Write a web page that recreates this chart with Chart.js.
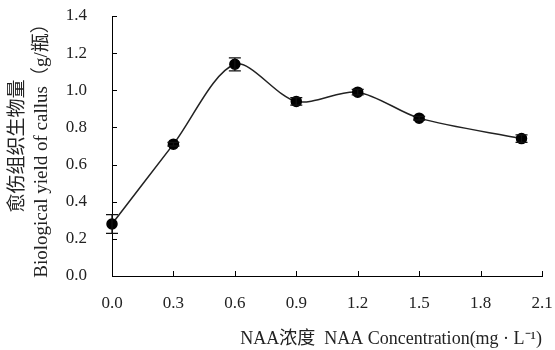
<!DOCTYPE html>
<html>
<head>
<meta charset="utf-8">
<script src="https://cdn.jsdelivr.net/npm/chart.js@4/dist/chart.umd.min.js"></script>
<style>
  html, body { margin: 0; padding: 0; background: #fff; }
  #wrap { width: 555px; height: 350px; position: relative; }
</style>
</head>
<body>
<div id="wrap"><canvas id="c" width="555" height="350"></canvas></div>
<script>
// Data
const concentrations = [0.0, 0.3, 0.6, 0.9, 1.2, 1.5, 2.0];   // NAA mg/L
const yieldValues    = [0.28, 0.71, 1.14, 0.94, 0.99, 0.85, 0.74]; // g/bottle
const yieldErrors    = [0.05, 0.01, 0.035, 0.02, 0.015, 0.01, 0.02];
const yTitleLines = ['愈伤组织生物量', 'Biological yield of callus（g/瓶）'];
const xTitleText = 'NAA浓度  NAA Concentration(mg · L⁻¹)';

const SERIF = '"Liberation Serif", "Times New Roman", "Noto Sans CJK SC", serif';

const points = concentrations.map((x, i) => ({ x: x, y: yieldValues[i] }));

const errorBarPlugin = {
  id: 'errorBars',
  afterDatasetsDraw(chart) {
    const { ctx, scales: { x, y } } = chart;
    ctx.save();
    ctx.strokeStyle = '#111';
    ctx.lineWidth = 1.3;
    concentrations.forEach((cx, i) => {
      const px = x.getPixelForValue(cx);
      const top = y.getPixelForValue(yieldValues[i] + yieldErrors[i]);
      const bot = y.getPixelForValue(yieldValues[i] - yieldErrors[i]);
      const hw = 6;
      ctx.beginPath();
      ctx.moveTo(px, top); ctx.lineTo(px, bot);
      ctx.moveTo(px - hw, top); ctx.lineTo(px + hw, top);
      ctx.moveTo(px - hw, bot); ctx.lineTo(px + hw, bot);
      ctx.stroke();
    });
    ctx.restore();
  }
};

const inwardTicksPlugin = {
  id: 'inwardTicks',
  afterDraw(chart) {
    const { ctx, chartArea, scales: { x, y } } = chart;
    ctx.save();
    ctx.strokeStyle = '#000';
    ctx.lineWidth = 1;
    ctx.beginPath();
    y.ticks.forEach(t => {
      const py = Math.round(y.getPixelForValue(t.value)) + 0.5;
      ctx.moveTo(chartArea.left, py);
      ctx.lineTo(chartArea.left + 5, py);
    });
    x.ticks.forEach(t => {
      const px = Math.round(x.getPixelForValue(t.value)) + 0.5;
      ctx.moveTo(px, chartArea.bottom);
      ctx.lineTo(px, chartArea.bottom - 5);
    });
    ctx.stroke();
    ctx.restore();
  }
};

new Chart(document.getElementById('c'), {
  type: 'line',
  data: {
    datasets: [{
      data: points,
      borderColor: '#222',
      borderWidth: 1.5,
      backgroundColor: '#000',
      pointBackgroundColor: '#000',
      pointBorderColor: '#000',
      pointRadius: 5,
      pointHoverRadius: 5,
      tension: 0.3,
      clip: false,
      fill: false
    }]
  },
  options: {
    responsive: false,
    animation: false,
    events: [],
    layout: { padding: { top: 16, right: 13, left: 0, bottom: 0 } },
    plugins: {
      legend: { display: false },
      tooltip: { enabled: false }
    },
    scales: {
      x: {
        type: 'linear',
        min: 0,
        max: 2.1,
        afterFit(s) { s.height = 74; s.paddingLeft = 0; s.paddingRight = 0; },
        ticks: {
          stepSize: 0.3,
          padding: 17,
          color: '#222',
          font: { family: SERIF, size: 17 },
          callback: v => Number(v).toFixed(1)
        },
        grid: { display: true, drawOnChartArea: false, drawTicks: false },
        border: { display: true, color: '#000', width: 1 },
        title: {
          display: true,
          text: xTitleText,
          align: 'end',
          color: '#222',
          font: { family: SERIF, size: 18, lineHeight: 1.2 },
          padding: { top: 0, bottom: 0 }
        }
      },
      y: {
        min: 0,
        max: 1.4,
        afterFit(s) { s.width = 112; s.paddingTop = 0; s.paddingBottom = 0; },
        ticks: {
          stepSize: 0.2,
          padding: 25,
          color: '#222',
          font: { family: SERIF, size: 17 },
          callback: v => Number(v).toFixed(1)
        },
        grid: { display: true, drawOnChartArea: false, drawTicks: false },
        border: { display: true, color: '#000', width: 1 },
        title: {
          display: true,
          text: yTitleLines,
          color: '#222',
          font: { family: SERIF, size: 19, lineHeight: 1.25 },
          padding: { top: 6, bottom: 0 }
        }
      }
    }
  },
  plugins: [errorBarPlugin, inwardTicksPlugin]
});
</script>
</body>
</html>
